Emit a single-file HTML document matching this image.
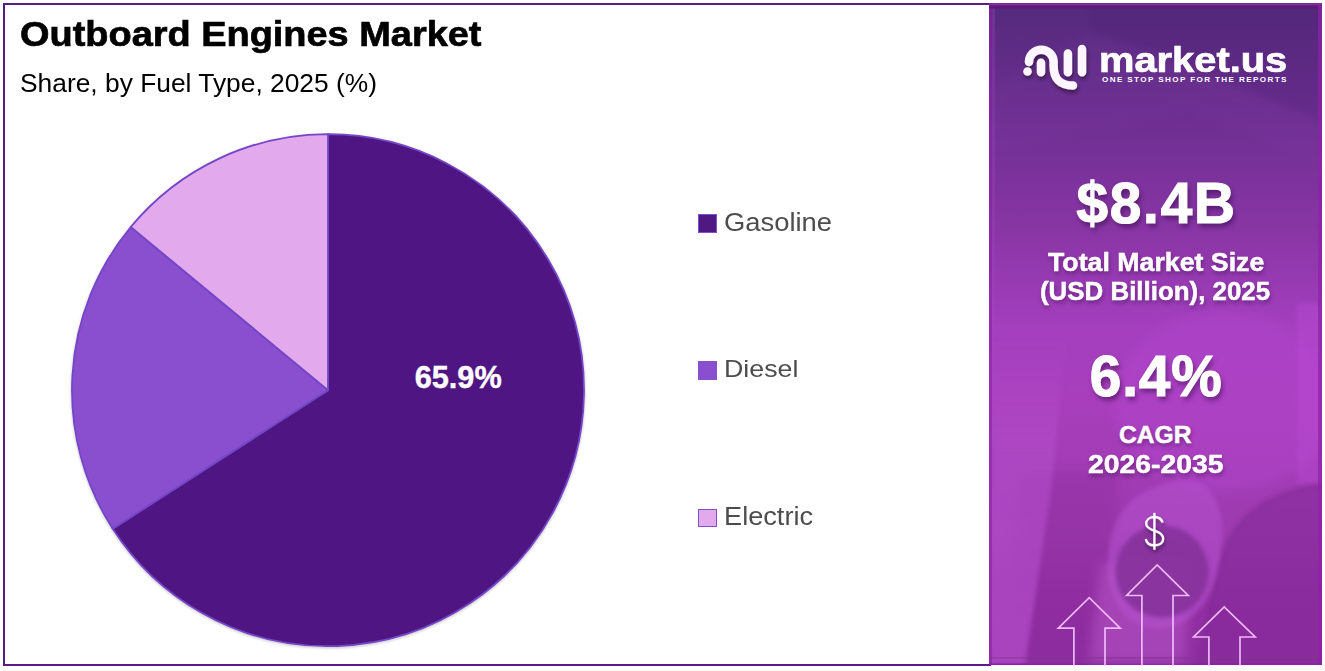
<!DOCTYPE html>
<html><head><meta charset="utf-8">
<style>
html,body{margin:0;padding:0;width:1325px;height:671px;overflow:hidden;background:#fff;}
body{position:relative;font-family:"Liberation Sans",sans-serif;}
.t{position:absolute;white-space:nowrap;line-height:1;transform-origin:0 0;}
#frame{position:absolute;left:3px;top:3px;width:988px;height:662.5px;box-sizing:border-box;border:2px solid #4e1e78;border-top-color:#58207f;border-bottom-color:#62158a;border-right:none;}
#panel{position:absolute;left:989px;top:3px;width:333px;height:662px;overflow:hidden;background:#8a36a6;}
.w{color:#fff;}
.sh{text-shadow:2px 4px 5px rgba(50,10,70,0.55);}
.sh2{-webkit-text-stroke:0.5px #fff;text-shadow:1px 3px 4px rgba(50,10,70,0.45);}
</style></head>
<body>
<div id="frame"></div>

<div class="t" id="title" style="left:19.5px;top:16.5px;font-size:35.6px;font-weight:700;color:#000;transform:scaleX(1.066);-webkit-text-stroke:0.7px #000;">Outboard Engines Market</div>
<div class="t" id="sub" style="left:20px;top:71.2px;font-size:25.35px;font-weight:400;color:#000;transform:scaleX(1.04);">Share, by Fuel Type, 2025 (%)</div>

<svg id="pie" style="position:absolute;left:0;top:0" width="989" height="671">
  <defs><filter id="psh" x="-5%" y="-5%" width="110%" height="110%"><feGaussianBlur in="SourceAlpha" stdDeviation="1.5"/><feOffset dx="0" dy="1"/><feComponentTransfer><feFuncA type="linear" slope="0.25"/></feComponentTransfer><feMerge><feMergeNode/><feMergeNode in="SourceGraphic"/></feMerge></filter></defs>
  <g stroke="#7346c6" stroke-width="1.8" stroke-linejoin="round" filter="url(#psh)">
    <path id="pg" d="M328,390.2 L328.00,134.20 A256,256 0 1 1 112.72,528.73 Z" fill="#4f1883"/>
    <path id="pd" d="M328,390.2 L112.72,528.73 A256,256 0 0 1 130.75,227.02 Z" fill="#8a4fcf"/>
    <path id="pe" d="M328,390.2 L130.75,227.02 A256,256 0 0 1 328.00,134.20 Z" fill="#e2a9ed"/>
  </g>
</svg>
<div class="t" id="pct" style="left:414.7px;top:363.4px;font-size:30.7px;font-weight:700;color:#fff;-webkit-text-stroke:0.4px #fff;">65.9%</div>

<div style="position:absolute;left:698px;top:214px;width:18.5px;height:18.5px;box-sizing:border-box;background:#4f1883;border:1.5px solid #7f4fd0;"></div>
<div class="t" id="lg1" style="left:723.7px;top:209.5px;font-size:24.9px;color:#4d4d4d;transform:scaleX(1.1);">Gasoline</div>
<div style="position:absolute;left:698px;top:361px;width:19px;height:18.7px;box-sizing:border-box;background:#8a4fcf;"></div>
<div class="t" id="lg2" style="left:723.9px;top:356.9px;font-size:24.5px;color:#4d4d4d;transform:scaleX(1.094);">Diesel</div>
<div style="position:absolute;left:698px;top:509px;width:19px;height:18px;box-sizing:border-box;background:#e2a9ed;border:1.7px solid #8050c8;"></div>
<div class="t" id="lg3" style="left:723.8px;top:503.8px;font-size:24.9px;color:#4d4d4d;transform:scaleX(1.092);">Electric</div>

<div id="panel"><svg width="333" height="662" style="position:absolute;left:0;top:0">
  <defs>
    <linearGradient id="bgv" x1="0" y1="0" x2="0" y2="1">
      <stop offset="0" stop-color="#542a7c"/>
      <stop offset="0.17" stop-color="#6c2e90"/>
      <stop offset="0.35" stop-color="#8a36a6"/>
      <stop offset="0.49" stop-color="#a43fbe"/>
      <stop offset="0.60" stop-color="#a83ebc"/>
      <stop offset="0.80" stop-color="#9c3aae"/>
      <stop offset="0.91" stop-color="#922fa3"/>
      <stop offset="1" stop-color="#8e2ea0"/>
    </linearGradient>
    <linearGradient id="papg" x1="0" y1="0" x2="0" y2="1"><stop offset="0" stop-color="#b64ecc" stop-opacity="0"/><stop offset="0.35" stop-color="#b64ecc" stop-opacity="0.55"/><stop offset="1" stop-color="#b64ecc" stop-opacity="0.7"/></linearGradient>
    <filter id="b6"><feGaussianBlur stdDeviation="6"/></filter>
    <filter id="b2"><feGaussianBlur stdDeviation="2"/></filter>
  </defs>
  <rect width="333" height="662" fill="url(#bgv)"/>
  <polygon points="100,0 333,0 333,118 180,55 103,30" fill="#4a1e70" opacity="0.15" filter="url(#b2)"/>
  <polygon points="0,85 103,30 180,55 333,118 333,160 200,110 0,150" fill="#8a48b0" opacity="0.1" filter="url(#b6)"/>
  <polygon points="308,300 333,300 333,480 308,480" fill="#c050dc" opacity="0.35" filter="url(#b2)"/>
  <ellipse cx="235" cy="400" rx="110" ry="90" fill="#b848d4" opacity="0.35" filter="url(#b6)"/>
  <polygon points="30,470 130,470 115,662 20,662" fill="#8a2c9c" opacity="0.35" filter="url(#b6)"/>
  <polygon points="0,330 78,330 62,487 36,662 0,662" fill="url(#papg)" filter="url(#b2)"/>
  <rect x="0" y="0" width="3" height="662" fill="#8c22a6" opacity="0.6"/>
  <rect x="3" y="0" width="3" height="662" fill="#a646c4" opacity="0.3"/>
  <rect x="0" y="0" width="333" height="1.2" fill="#7a3090"/>
  <rect x="0" y="1.2" width="333" height="1.3" fill="#8a30a0"/>
  <rect x="0" y="2.5" width="333" height="3" fill="#5e1a78"/>
  <rect x="0" y="660.5" width="333" height="2" fill="#8a20a8"/>
  <polygon points="112,560 200,560 196,659 100,659" fill="#b452c4" opacity="0.6" filter="url(#b6)"/>
  <path d="M333,482 C300,486 260,500 240,537 C228,560 223,597 211,662 L333,662 Z" fill="#86299a" opacity="0.6" filter="url(#b2)"/>
  <path d="M333,482 C300,486 260,500 240,537 C228,560 223,597 211,662" stroke="#6a2080" stroke-width="3" fill="none" opacity="0.3" filter="url(#b2)"/>
  <rect x="0" y="654" width="333" height="1.5" fill="#7a3a8a" opacity="0.5"/>
  <rect x="329" y="0" width="4" height="662" fill="#8c22a6" opacity="0.7"/>
  <path d="M120,545 C125,500 160,478 200,478 C225,478 238,510 232,545 C228,600 200,625 170,625 C135,625 115,595 120,545 Z" fill="#b652d0" opacity="0.55" filter="url(#b2)"/>
  <ellipse cx="173" cy="568.6" rx="46.6" ry="46" fill="#86309c" opacity="0.9" filter="url(#b2)"/>
</svg></div>
<svg id="logo" style="position:absolute;left:0;top:0" width="1325" height="671">
  <defs><filter id="lsh" x="-20%" y="-20%" width="140%" height="160%"><feGaussianBlur in="SourceAlpha" stdDeviation="2"/><feOffset dx="1" dy="3"/><feComponentTransfer><feFuncA type="linear" slope="0.45"/></feComponentTransfer><feMerge><feMergeNode/><feMergeNode in="SourceGraphic"/></feMerge></filter></defs>
  <g filter="url(#lsh)" fill="none" stroke="#fdf5ff" stroke-width="8.5" stroke-linecap="round">
    <circle cx="1027.5" cy="71.5" r="4.3" fill="#fdf5ff" stroke="none"/>
    <path d="M1029,62 A12.3,12.3 0 0 1 1053.6,62 L1053.6,66 Q1053.6,85.5 1073,85.5"/>
    <path d="M1041,62.7 L1041,72.2 M1067.9,53.5 L1067.9,72.2 M1082,49 L1082,72.2"/>
  </g>
  <g fill="none" stroke="rgba(246,196,255,0.92)" stroke-width="1.7" stroke-linejoin="miter">
    <path d="M1073.9,666 L1073.9,628.1 L1058.3,628.1 L1089.2,597.6 L1120.2,628.1 L1105,628.1 L1105,666"/>
    <path d="M1141.9,666 L1141.9,595.5 L1126.6,595.5 L1157.2,565 L1188.2,595.5 L1173,595.5 L1173,666"/>
    <path d="M1208.9,666 L1208.9,637 L1193.6,637 L1224.2,607 L1255.2,637 L1240,637 L1240,666"/>
  </g>
</svg>
<div class="t w" id="mk" style="left:1099.4px;top:43.2px;font-size:35.6px;font-weight:700;transform:scaleX(1.12);-webkit-text-stroke:0.7px #fff;">market.us</div>
<div class="t w" id="tag" style="left:1102px;top:76.2px;font-size:8.1px;font-weight:700;letter-spacing:1.38px;">ONE STOP SHOP FOR THE REPORTS</div>
<div class="t w sh" id="usd" style="left:1076.4px;top:175.5px;font-size:56.76px;font-weight:700;letter-spacing:1.8px;-webkit-text-stroke:1.2px #fff;">$8.4B</div>
<div class="t w sh2" id="tms" style="left:1047.7px;top:248.8px;font-size:26.09px;font-weight:700;transform:scaleX(1.0248);">Total Market Size</div>
<div class="t w sh2" id="usdb" style="left:1040px;top:278.5px;font-size:25.57px;font-weight:700;transform:scaleX(1.0125);">(USD Billion), 2025</div>
<div class="t w sh" id="cagrv" style="left:1089.7px;top:348.8px;font-size:56.76px;font-weight:700;letter-spacing:0.9px;-webkit-text-stroke:1.2px #fff;">6.4%</div>
<div class="t w sh2" id="cagr" style="left:1118.9px;top:422.9px;font-size:24.65px;font-weight:700;">CAGR</div>
<div class="t w sh2" id="yrs" style="left:1088.35px;top:451.8px;font-size:25.71px;font-weight:700;transform:scaleX(1.1024);">2026-2035</div>
<svg style="position:absolute;left:0;top:0" width="1325" height="671"><g fill="none" stroke="#fff" stroke-width="2.3" stroke-linecap="butt" filter="url(#lsh)">
<path d="M1162.6,522.5 C1161.5,518.8 1158.5,517 1154.6,517 C1149.8,517 1146.2,519.6 1146.2,523.6 C1146.2,528 1150,529.5 1154.8,530.8 C1159.8,532.2 1163.2,534 1163.2,538.8 C1163.2,543 1159.5,545.4 1154.6,545.4 C1150,545.4 1146.5,543.2 1145.8,539"/>
<path d="M1154.4,512.8 L1154.4,549.7"/></g></svg>
</body></html>
